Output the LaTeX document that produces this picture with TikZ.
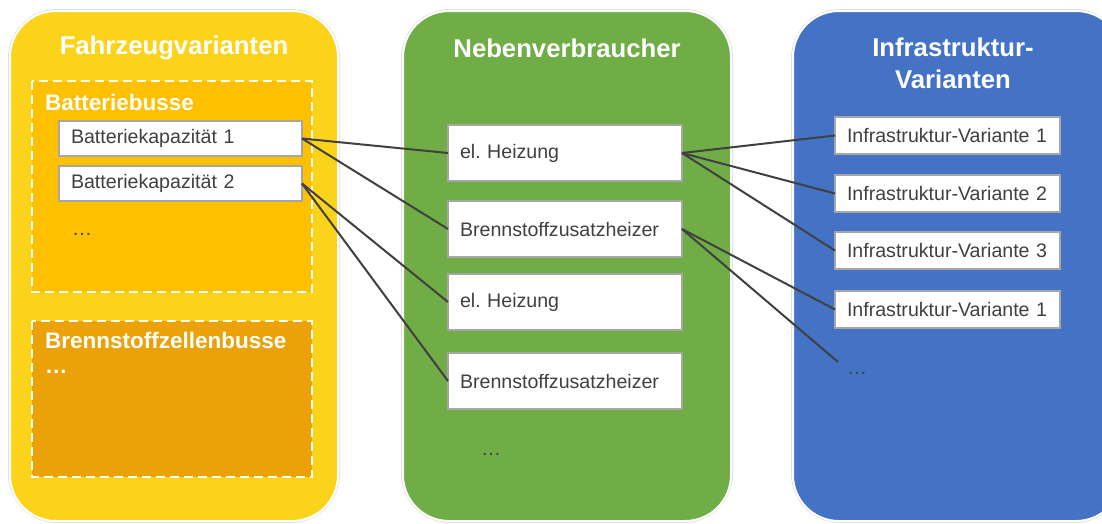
\documentclass[tikz,border=0pt]{standalone}
\usepackage{fontspec}
\setmainfont{Liberation Sans}
\frenchspacing
\definecolor{panelyellow}{RGB}{251,211,26}
\definecolor{batfill}{RGB}{255,192,0}
\definecolor{fcfill}{RGB}{235,161,8}
\definecolor{panelgreen}{RGB}{112,173,71}
\definecolor{panelblue}{RGB}{68,114,196}
\definecolor{boxborder}{RGB}{166,166,166}
\definecolor{darktext}{RGB}{64,64,64}
\definecolor{halo}{RGB}{225,225,225}
\tikzset{
  panel/.style={rounded corners=46pt, draw=white, line width=2pt},
  panelhalo/.style={rounded corners=47pt, draw=halo, line width=4pt},
  grouparea/.style={draw=white, line width=2pt, dash pattern=on 9pt off 5pt},
  paneltitle/.style={text=white, font=\fontsize{25.7}{32}\selectfont\bfseries, align=center},
  grouptitle/.style={text=white, font=\fontsize{22.5}{26}\selectfont\bfseries, anchor=west, inner sep=0pt},
  itembox/.style={draw=boxborder, fill=white, line width=2.5pt, anchor=north west,
    outer sep=0pt, inner xsep=12pt, inner ysep=0pt, align=left, text=darktext,
    font=\fontsize{19.6}{23}\selectfont},
  dots/.style={text=darktext, font=\fontsize{20}{23}\selectfont, anchor=west, inner sep=0pt},
  link/.style={draw=darktext, line width=2pt},
}
\begin{document}
\begin{tikzpicture}[x=1pt, y=-1pt]
\clip (0,0) rectangle (1102,523);
\fill[white] (0,0) rectangle (1102,523);

% column panels
\draw[panelhalo] (10,11) rectangle (338,521);
\draw[panel, fill=panelyellow] (10,11) rectangle (338,521);
\draw[panelhalo] (403,11) rectangle (731,521);
\draw[panel, fill=panelgreen] (403,11) rectangle (731,521);
\draw[panelhalo] (793,11) rectangle (1122,521);
\draw[panel, fill=panelblue] (793,11) rectangle (1122,521);

\node[paneltitle] (tveh) at (174,48) {Fahrzeugvarianten};
\node[paneltitle] (taux) at (567,48) {Nebenverbraucher};
\node[paneltitle] (tinf) at (953,63) {Infrastruktur-\\Varianten};

% vehicle groups
\filldraw[grouparea, fill=batfill] (32,81) rectangle (312,292);
\filldraw[grouparea, fill=fcfill] (32,321) rectangle (312,477);
\node[grouptitle] (gbat) at (45,102) {Batteriebusse};
\node[grouptitle] (gfc) at (45,340) {Brennstoffzellenbusse};
\node[grouptitle] (gfcdots) at (45,372) {\ldots};

% vehicle variants
\node[itembox, minimum width=243pt, minimum height=35pt, text width=219pt] (bk1) at (59,121) {Batteriekapazität 1};
\node[itembox, minimum width=243pt, minimum height=35pt, text width=219pt] (bk2) at (59,166) {Batteriekapazität 2};
\node[dots] (bkdots) at (72,234) {\ldots};

% auxiliary consumers
\node[itembox, minimum width=234pt, minimum height=56pt, text width=210pt] (h1) at (448,125) {el. Heizung};
\node[itembox, minimum width=234pt, minimum height=56pt, text width=210pt] (b1) at (448,201) {Brennstoffzusatzheizer};
\node[itembox, minimum width=234pt, minimum height=56pt, text width=210pt] (h2) at (448,274) {el. Heizung};
\node[itembox, minimum width=234pt, minimum height=56pt, text width=210pt] (b2) at (448,353) {Brennstoffzusatzheizer};
\node[dots] (auxdots) at (481,454) {\ldots};

% infrastructure variants
\node[itembox, minimum width=225pt, minimum height=37pt, text width=201pt] (i1) at (835,117) {Infrastruktur-Variante 1};
\node[itembox, minimum width=225pt, minimum height=37pt, text width=201pt] (i2) at (835,175) {Infrastruktur-Variante 2};
\node[itembox, minimum width=225pt, minimum height=37pt, text width=201pt] (i3) at (835,232) {Infrastruktur-Variante 3};
\node[itembox, minimum width=225pt, minimum height=37pt, text width=201pt] (i4) at (835,291) {Infrastruktur-Variante 1};
\node[dots] (infdots) at (847,373) {\ldots};
\coordinate (infend) at (838,362);

% links
\draw[link] (bk1.east) -- (h1.west);
\draw[link] (bk1.east) -- (b1.west);
\draw[link] (bk2.east) -- (h2.west);
\draw[link] (bk2.east) -- (b2.west);
\draw[link] (h1.east) -- (i1.west);
\draw[link] (h1.east) -- (i2.west);
\draw[link] (h1.east) -- (i3.west);
\draw[link] (b1.east) -- (i4.west);
\draw[link] (b1.east) -- (infend);
\end{tikzpicture}
\end{document}
